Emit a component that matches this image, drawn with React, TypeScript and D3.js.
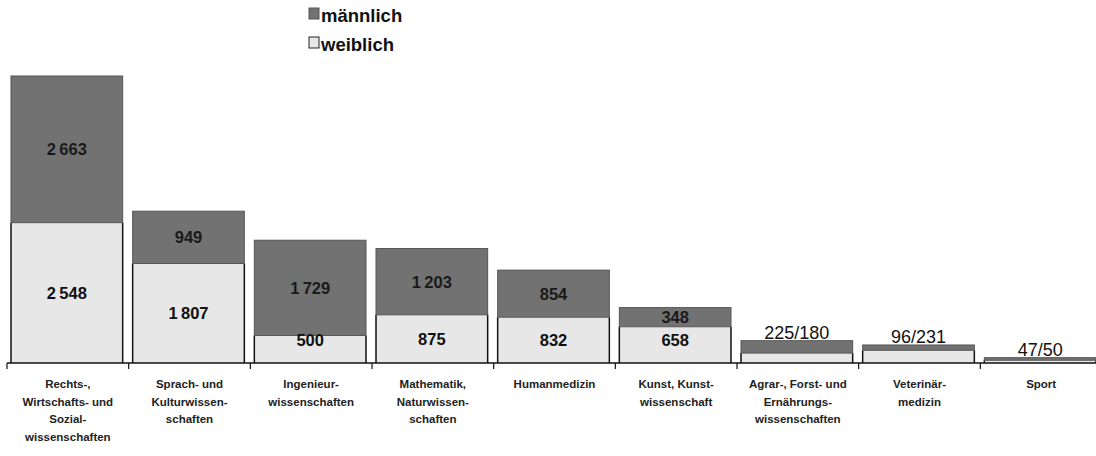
import React from "react";
import * as d3 from "d3";

const categories: string[][] = [
  ["Rechts-,", "Wirtschafts- und", "Sozial-", "wissenschaften"],
  ["Sprach- und", "Kulturwissen-", "schaften"],
  ["Ingenieur-", "wissenschaften"],
  ["Mathematik,", "Naturwissen-", "schaften"],
  ["Humanmedizin"],
  ["Kunst, Kunst-", "wissenschaft"],
  ["Agrar-, Forst- und", "Ernährungs-", "wissenschaften"],
  ["Veterinär-", "medizin"],
  ["Sport"],
];
const male: number[] = [2663, 949, 1729, 1203, 854, 348, 225, 96, 47];
const female: number[] = [2548, 1807, 500, 875, 832, 658, 180, 231, 50];
const seriesNames = ["männlich", "weiblich"];

const W = 1096;
const H = 456;
const baseY = 363;
const topY = 76;
const MALE = "#727272";
const MALE_STROKE = "#555555";
const FEMALE = "#e7e7e7";
const FONT = "'Liberation Sans', Arial, Helvetica, sans-serif";

const locale = d3.formatLocale({ decimal: ",", thousands: "\u2009", grouping: [3], currency: ["", " €"] });
const fmt = locale.format(",d");

export default function App() {
  const keys = categories.map((_, i) => String(i));
  const totals = male.map((m, i) => m + female[i]);
  const x = d3.scaleBand<string>().domain(keys).range([7, 1102]).padding(0);
  const y = d3.scaleLinear().domain([0, d3.max(totals) as number]).range([baseY, topY]);
  const bw = x.bandwidth();

  return (
    <svg width={W} height={H} style={{ position: "absolute", left: 0, top: 0, background: "#fff" }} fontFamily={FONT}>
      {/* legend */}
      <g>
        <rect x={309} y={8} width={10} height={11} fill={MALE} stroke={MALE_STROKE} strokeWidth={1} />
        <text x={321} y={22} fontSize={18.5} fontWeight="bold" fill="#111">{seriesNames[0]}</text>
        <rect x={309} y={37} width={10} height={11} fill={FEMALE} stroke="#222" strokeWidth={1} />
        <text x={321} y={51} fontSize={18.5} fontWeight="bold" fill="#111">{seriesNames[1]}</text>
      </g>
      {keys.map((k, i) => {
        const x0 = (x(k) as number) + 4;
        const w = bw - 10;
        const yF = y(female[i]);
        const yT = y(totals[i]);
        const small = totals[i] < 500;
        const cx = x0 + w / 2;
        return (
          <g key={k}>
            <rect x={x0} y={yF} width={w} height={baseY - yF} fill={FEMALE} />
            <line x1={x0} x2={x0} y1={yF} y2={baseY} stroke="#111" strokeWidth={1.5} />
            <line x1={x0 + w} x2={x0 + w} y1={yF} y2={baseY} stroke="#111" strokeWidth={1.5} />
            <rect x={x0} y={yT} width={w} height={yF - yT} fill={MALE} stroke={MALE_STROKE} strokeWidth={1} />
            {small ? (
              <text x={cx} y={yT - 2} textAnchor="middle" fontSize={18} fill="#111">
                {`${male[i]}/${female[i]}`}
              </text>
            ) : (
              <>
                <text x={cx} y={(yT + yF) / 2} dominantBaseline="central" textAnchor="middle" fontSize={16.5} fontWeight="bold" fill="#1a1a1a">
                  {fmt(male[i])}
                </text>
                <text x={cx} y={Math.min((yF + baseY) / 2, baseY - 23)} dominantBaseline="central" textAnchor="middle" fontSize={16.5} fontWeight="bold" fill="#111">
                  {fmt(female[i])}
                </text>
              </>
            )}
          </g>
        );
      })}
      {/* axis */}
      <line x1={7} x2={W} y1={baseY} y2={baseY} stroke="#111" strokeWidth={1.5} />
      {keys.map((k) => (
        <line key={"t" + k} x1={x(k) as number} x2={x(k) as number} y1={baseY} y2={baseY + 6} stroke="#111" strokeWidth={1.2} />
      ))}
      {keys.map((k, i) => (
        <text key={"l" + k} x={(x(k) as number) + bw / 2} y={388} textAnchor="middle" fontSize={11.5} fontWeight="bold" fill="#222">
          {categories[i].map((line, j) => (
            <tspan key={j} x={(x(k) as number) + bw / 2} dy={j === 0 ? 0 : 17.7}>
              {line}
            </tspan>
          ))}
        </text>
      ))}
    </svg>
  );
}
